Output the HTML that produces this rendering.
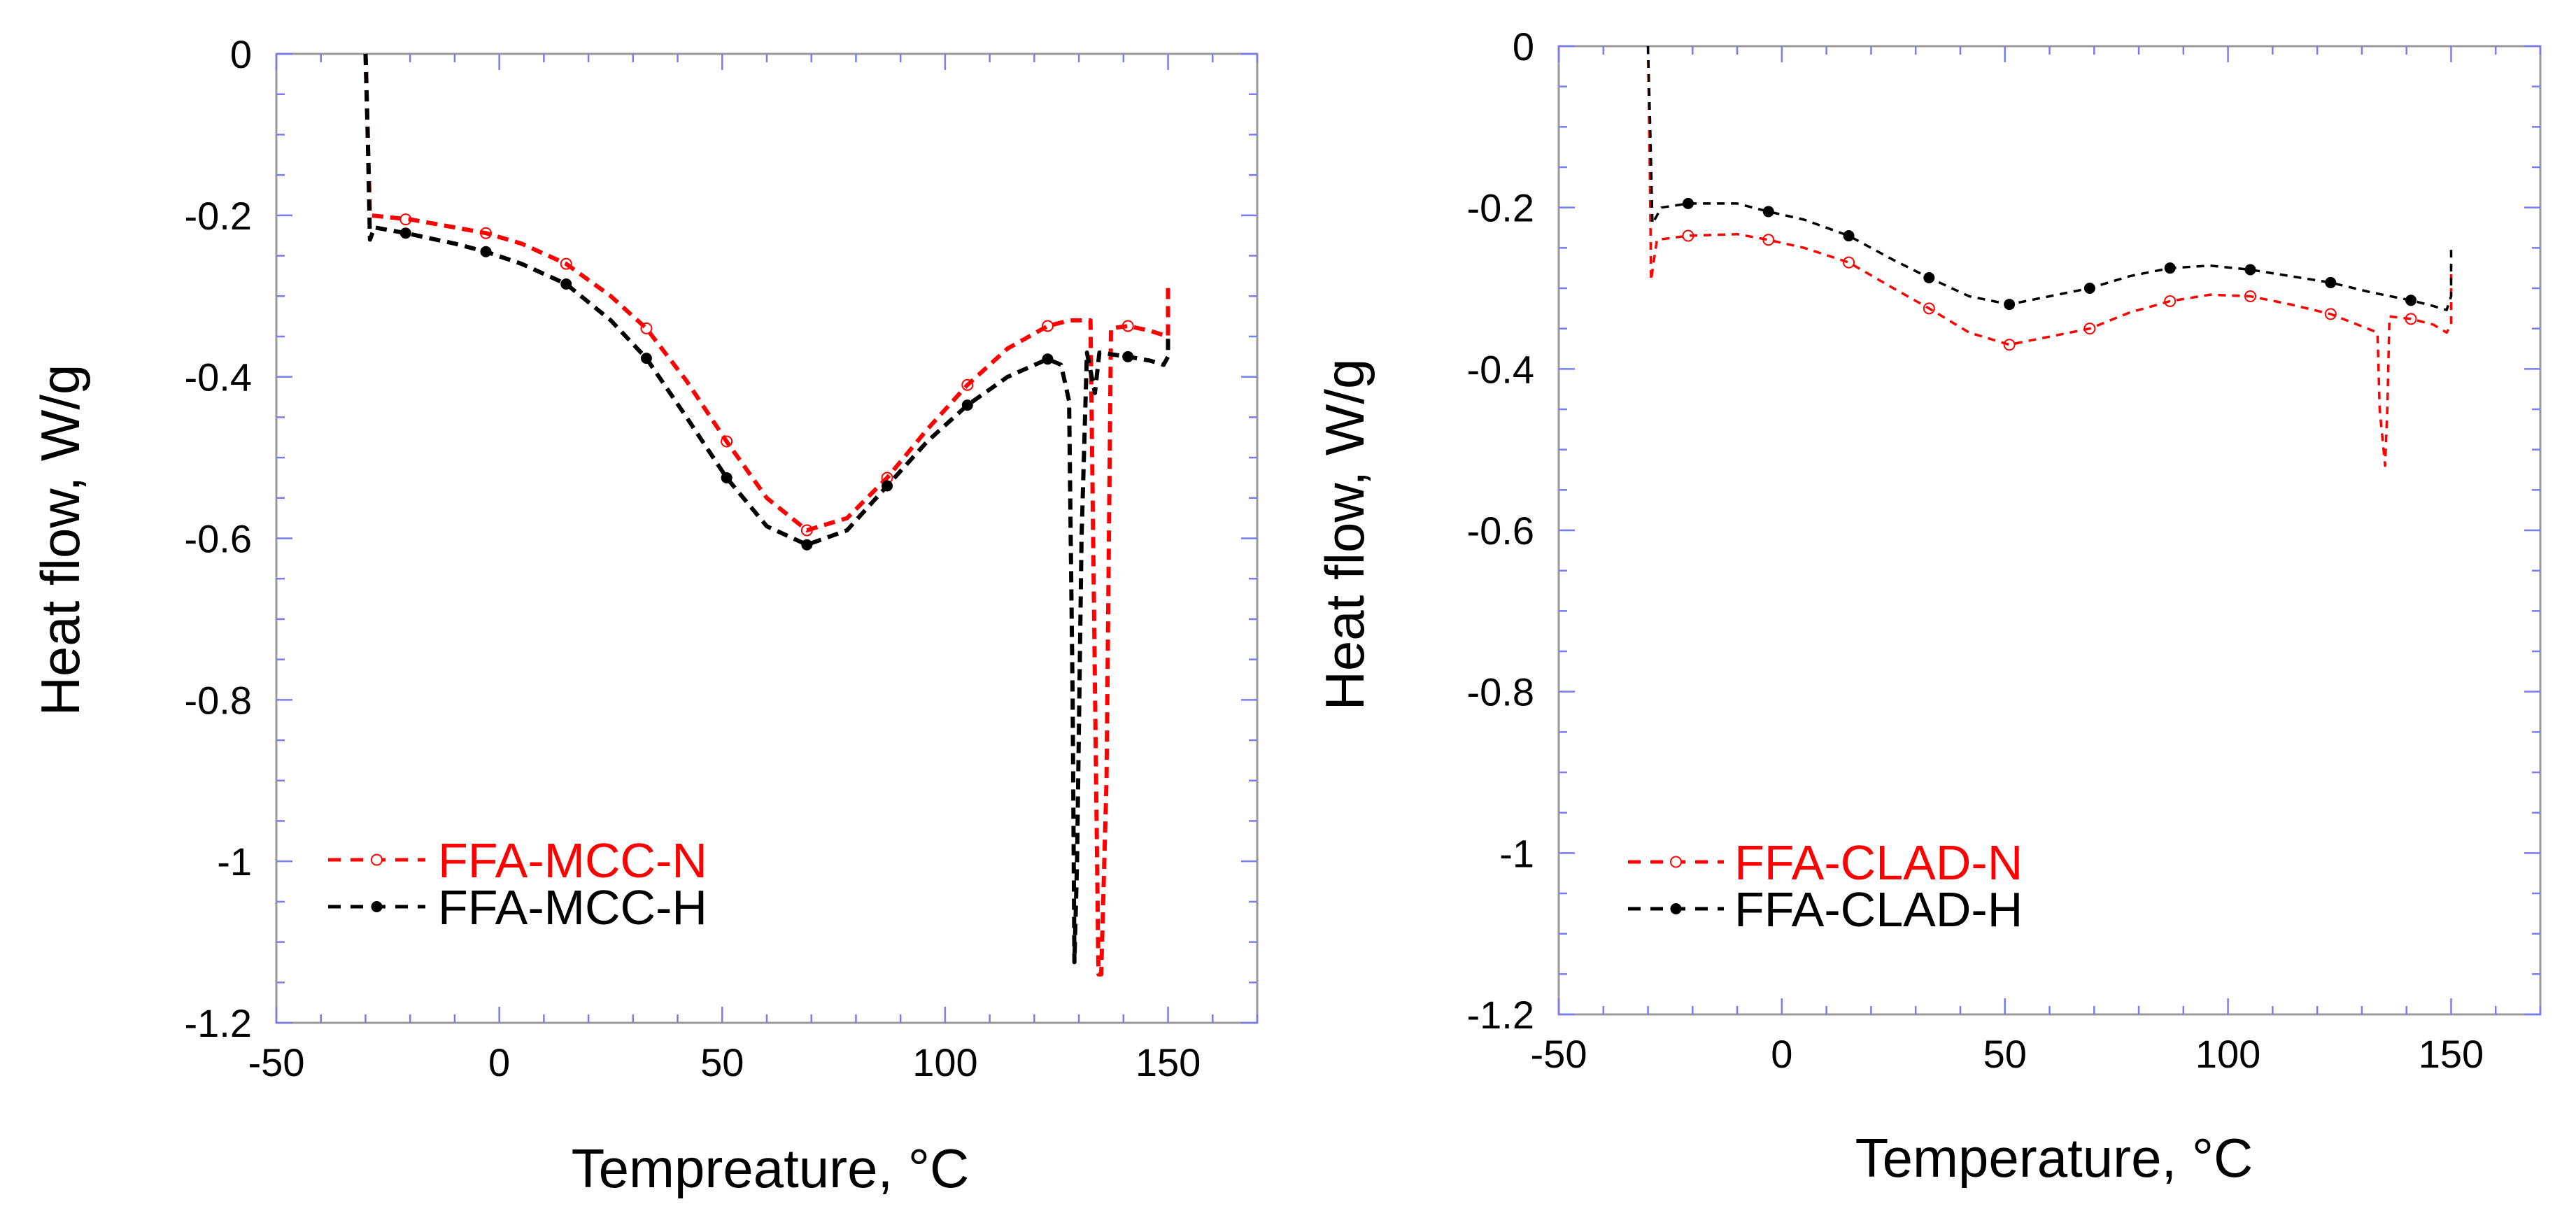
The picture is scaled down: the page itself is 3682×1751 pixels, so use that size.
<!DOCTYPE html>
<html><head><meta charset="utf-8">
<style>
html,body{margin:0;padding:0;background:#fff;}
svg{display:block;font-family:"Liberation Sans",Arial,sans-serif;}
</style></head>
<body>
<svg id="fig" width="3682" height="1751" viewBox="0 0 3682 1751" xmlns="http://www.w3.org/2000/svg">
<rect width="3682" height="1751" fill="#fff"/>
<g id="left"></g>
<g id="right"></g>
</svg>
<script>
// ---- data: left chart (MCC) ----
const xTicks = [-50, 0, 50, 100, 150];
const xTickLabels = ["-50", "0", "50", "100", "150"];
const yTicks = [0, -0.2, -0.4, -0.6, -0.8, -1, -1.2];
const yTickLabels = ["0", "-0.2", "-0.4", "-0.6", "-0.8", "-1", "-1.2"];
const markerTemps = [-21, -3, 15, 33, 51, 69, 87, 105, 123, 141];

const mccN_T = [-30, -29.5, -29, -20, -10, -3, 5, 15, 25, 33, 42, 51, 60, 69, 78, 87, 96, 105, 114, 123, 128, 132.6, 133.2, 134.4, 135, 136.2, 137.2, 141, 146, 150, 150];
const mccN_HF = [0, -0.1, -0.2, -0.205, -0.215, -0.222, -0.235, -0.26, -0.3, -0.34, -0.405, -0.48, -0.55, -0.59, -0.575, -0.525, -0.465, -0.41, -0.365, -0.337, -0.33, -0.33, -0.6, -1.14, -1.14, -0.9, -0.34, -0.337, -0.343, -0.35, -0.29];
const mccN_markHF = [-0.205, -0.222, -0.26, -0.34, -0.48, -0.59, -0.525, -0.41, -0.337, -0.337];

const mccH_T = [-30, -29.5, -29, -28, -21, -10, -3, 5, 15, 25, 33, 42, 51, 60, 69, 78, 87, 96, 105, 114, 123, 126, 127.8, 128.6, 129, 129.6, 130.6, 131.8, 133.6, 134.6, 141, 146, 149, 150, 150];
const mccH_HF = [0, -0.1, -0.23, -0.215, -0.222, -0.235, -0.245, -0.26, -0.285, -0.33, -0.377, -0.45, -0.525, -0.585, -0.608, -0.59, -0.535, -0.48, -0.435, -0.4, -0.378, -0.385, -0.43, -0.8, -1.125, -1.0, -0.6, -0.37, -0.42, -0.37, -0.375, -0.38, -0.385, -0.375, -0.35];
const mccH_markHF = [-0.222, -0.245, -0.285, -0.377, -0.525, -0.608, -0.535, -0.435, -0.378, -0.375];

// ---- data: right chart (CLAD) ----
const cladN_T = [-30, -29.6, -29.3, -28, -21, -10, -3, 5, 15, 25, 33, 42, 51, 60, 69, 78, 87, 96, 105, 114, 123, 129, 133.5, 134, 135.2, 135.7, 136.2, 141, 146, 149, 150, 150];
const cladN_HF = [0, -0.15, -0.29, -0.24, -0.235, -0.233, -0.24, -0.25, -0.268, -0.3, -0.325, -0.355, -0.37, -0.36, -0.35, -0.33, -0.316, -0.308, -0.31, -0.32, -0.332, -0.345, -0.355, -0.45, -0.52, -0.45, -0.335, -0.338, -0.345, -0.355, -0.345, -0.27];
const cladN_markHF = [-0.235, -0.24, -0.268, -0.325, -0.37, -0.35, -0.316, -0.31, -0.332, -0.338];

const cladH_T = [-30, -29.5, -29, -27, -21, -10, -3, 5, 15, 25, 33, 42, 51, 60, 69, 78, 87, 96, 105, 114, 123, 132, 141, 146, 149, 150, 150];
const cladH_HF = [0, -0.1, -0.22, -0.2, -0.195, -0.195, -0.205, -0.215, -0.235, -0.265, -0.287, -0.31, -0.32, -0.31, -0.3, -0.285, -0.275, -0.272, -0.277, -0.285, -0.293, -0.305, -0.315, -0.322, -0.327, -0.31, -0.25];
const cladH_markHF = [-0.195, -0.205, -0.235, -0.287, -0.32, -0.3, -0.275, -0.277, -0.293, -0.315];

const NS = "http://www.w3.org/2000/svg";
function mk(parent, tag, attrs) {
  const e = document.createElementNS(NS, tag);
  for (const k in attrs) e.setAttribute(k, attrs[k]);
  parent.appendChild(e);
  return e;
}

function drawChart(g, f, series, legend) {
  const sx = v => f.l + (v - (-50)) / 220 * (f.r - f.l);
  const sy = v => f.t + (0 - v) / 1.2 * (f.b - f.t);
  const fr = mk(g, "rect", {x: f.l, y: f.t, width: f.r - f.l, height: f.b - f.t, fill: "none", stroke: "#9a9a9a", "stroke-width": 3});
  
  
  for (let v = -50; v <= 170; v += 10) {
    const major = (v % 50 === 0);
    const L = major ? 23 : 12;
    const x = sx(v);
    const t1 = mk(g, "line", {x1: x, x2: x, y1: f.b, y2: f.b - L, stroke: "#7b7bf0", "stroke-width": 2.5});
    
    
    const t2 = mk(g, "line", {x1: x, x2: x, y1: f.t, y2: f.t + L, stroke: "#7b7bf0", "stroke-width": 2.5});
    
    
  }
  for (let i = 0; i <= 24; i++) {
    const v = -i * 0.05;
    const major = (i % 4 === 0);
    const L = major ? 23 : 12;
    const y = sy(v);
    const t1 = mk(g, "line", {x1: f.l, x2: f.l + L, y1: y, y2: y, stroke: "#7b7bf0", "stroke-width": 2.5});
    
    
    const t2 = mk(g, "line", {x1: f.r, x2: f.r - L, y1: y, y2: y, stroke: "#7b7bf0", "stroke-width": 2.5});
    
    
  }
  xTicks.forEach((v, i) => {
    const t = mk(g, "text", {x: sx(v), y: f.b + 76, "text-anchor": "middle", "font-size": 56, fill: "#000"});
    t.textContent = xTickLabels[i];
    
    
  });
  yTicks.forEach((v, i) => {
    const t = mk(g, "text", {x: f.l - 35, y: sy(v) + 20, "text-anchor": "end", "font-size": 56, fill: "#000"});
    t.textContent = yTickLabels[i];
    
    
  });
  const xt = mk(g, "text", {x: f.titleX, y: f.titleY, "text-anchor": "middle", "font-size": 78, fill: "#000"});
  xt.textContent = f.xTitle;
  
  
  const yt = mk(g, "text", {x: 0, y: 0, "text-anchor": "middle", "font-size": 78, fill: "#000", transform: `translate(${f.ylabX},${f.ylabY}) rotate(-90)`});
  yt.textContent = "Heat flow, W/g";
  
  
  series.forEach(s => {
    const d = s.T.map((t, i) => (i ? "L" : "M") + sx(t).toFixed(1) + "," + sy(s.HF[i]).toFixed(1)).join(" ");
    const p = mk(g, "path", {d: d, fill: "none", stroke: s.color, "stroke-width": f.lw, "stroke-dasharray": f.dash, "stroke-linejoin": "round"});
    
    
    markerTemps.forEach((t, i) => {
      const c = mk(g, "circle", {cx: sx(t), cy: sy(s.mark[i]), r: s.filled ? 8 : 7.5, fill: s.filled ? "#000" : "none", stroke: s.color, "stroke-width": s.filled ? 0 : 2});
      
      
    });
  });
  legend.forEach((lg, i) => {
    const s = series[i];
    const y = lg.y;
    const ln = mk(g, "line", {x1: f.legX1, x2: f.legX2, y1: y, y2: y, stroke: s.color, "stroke-width": 5, "stroke-dasharray": "18,14"});
    
    
    const c = mk(g, "circle", {cx: (f.legX1 + f.legX2) / 2, cy: y, r: s.filled ? 8 : 7.5, fill: s.filled ? "#000" : "#fff", stroke: s.color, "stroke-width": s.filled ? 0 : 2});
    
    
    const t = mk(g, "text", {x: f.legTX, y: y + 25, "font-size": 70, fill: s.color});
    t.textContent = lg.label;
    
    
  });
}

drawChart(document.getElementById("left"),
  {l: 395, r: 1797, t: 77, b: 1462, lw: 6, dash: "16,10", titleX: 1101, titleY: 1697, xTitle: "Tempreature, °C", ylabX: 113, ylabY: 772, legX1: 469, legX2: 608, legTX: 626},
  [{name: "ffa-mcc-n", T: mccN_T, HF: mccN_HF, mark: mccN_markHF, color: "#ff0000", filled: false},
   {name: "ffa-mcc-h", T: mccH_T, HF: mccH_HF, mark: mccH_markHF, color: "#000000", filled: true}],
  [{label: "FFA-MCC-N", y: 1229}, {label: "FFA-MCC-H", y: 1296}]);

drawChart(document.getElementById("right"),
  {l: 2228, r: 3631, t: 66, b: 1450, lw: 3.5, dash: "11,9", titleX: 2936, titleY: 1682, xTitle: "Temperature, °C", ylabX: 1949, ylabY: 764, legX1: 2327, legX2: 2464, legTX: 2479},
  [{name: "ffa-clad-n", T: cladN_T, HF: cladN_HF, mark: cladN_markHF, color: "#ff0000", filled: false},
   {name: "ffa-clad-h", T: cladH_T, HF: cladH_HF, mark: cladH_markHF, color: "#000000", filled: true}],
  [{label: "FFA-CLAD-N", y: 1232}, {label: "FFA-CLAD-H", y: 1299}]);
</script>
</body></html>
